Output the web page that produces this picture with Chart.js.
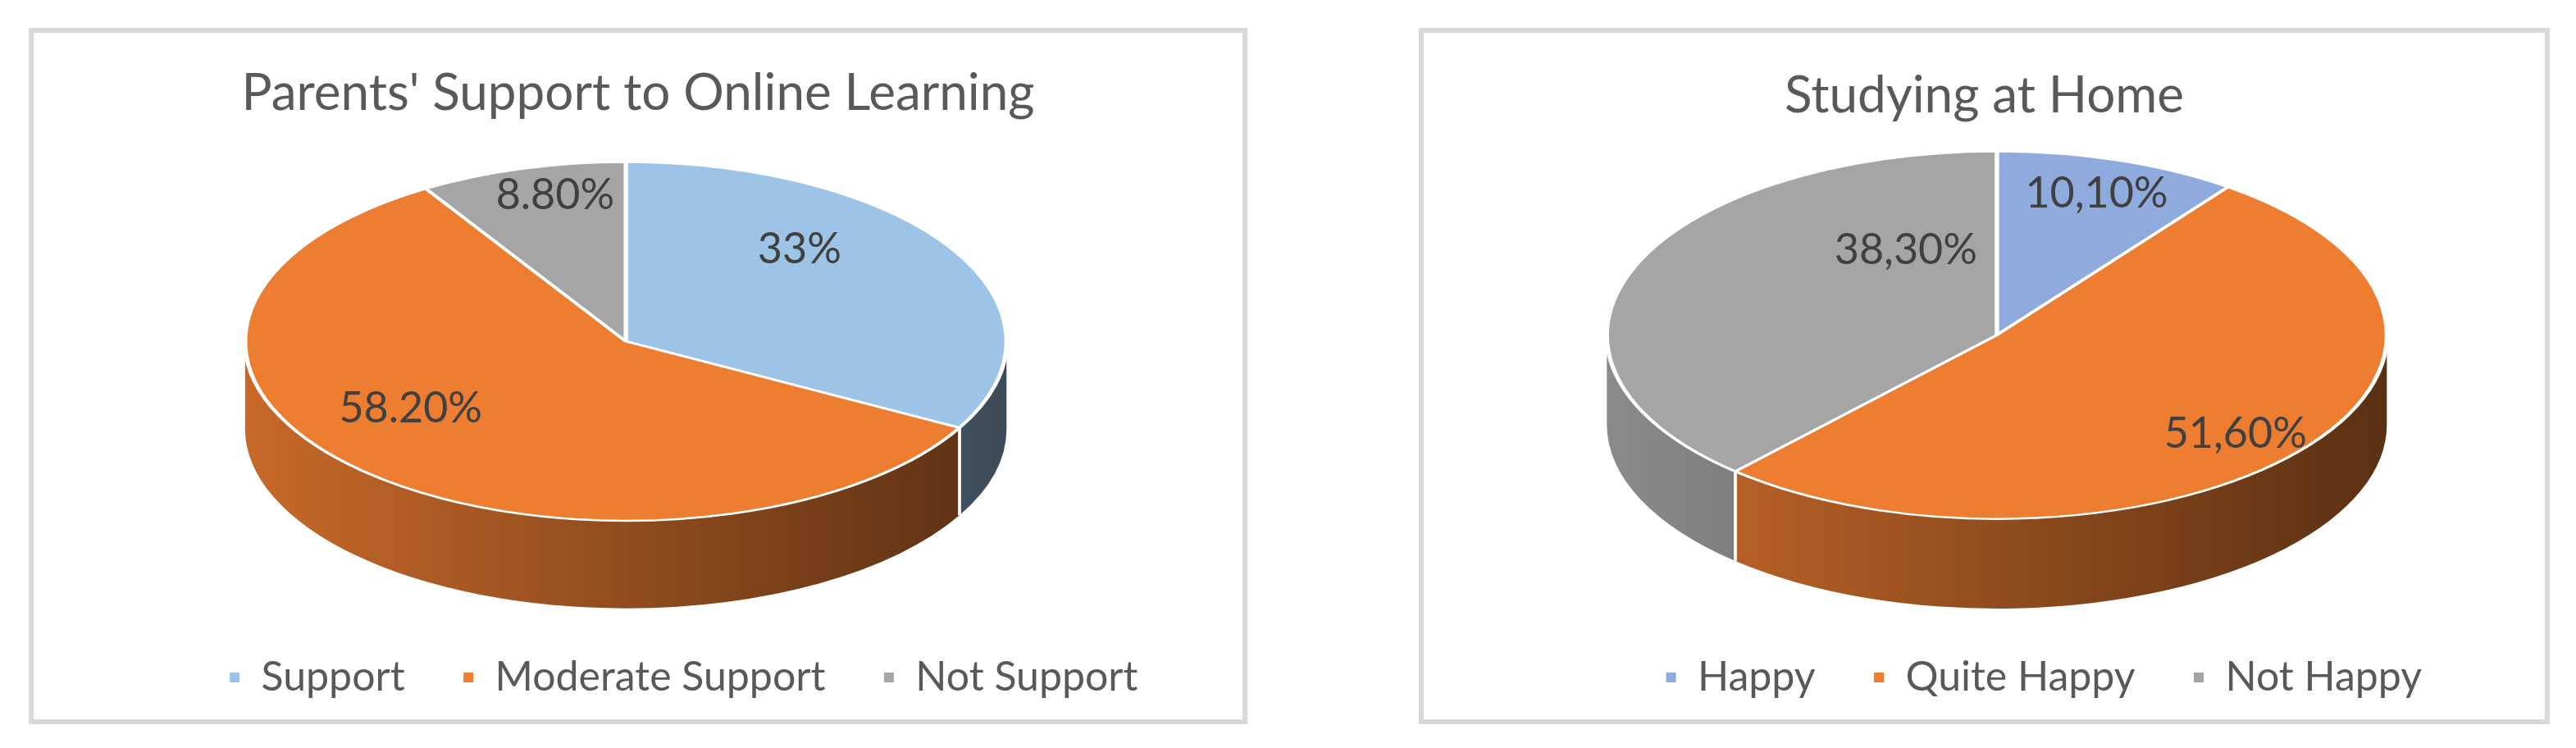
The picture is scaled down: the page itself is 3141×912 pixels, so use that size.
<!DOCTYPE html>
<html>
<head>
<meta charset="utf-8">
<title>Pie charts</title>
<script src="https://cdn.jsdelivr.net/npm/chart.js@4.4.1/dist/chart.umd.min.js"></script>
<style>
    body { margin: 0; background: #fff; width: 3141px; height: 912px; position: relative; overflow: hidden; }
    .panel { position: absolute; top: 34px; height: 837px; border: 6px solid #d9d9d9; background: #fff; }
    #panel1 { left: 35px; width: 1474px; }
    #panel2 { left: 1730px; width: 1367px; }
    canvas { display: block; }
</style>
</head>
<body>
<div class="panel" id="panel1"><canvas id="chart1" width="1474" height="837"></canvas></div>
<div class="panel" id="panel2"><canvas id="chart2" width="1367" height="837"></canvas></div>

<script>
// Data of the first chart
const title1 = "Parents' Support to Online Learning";
const categories1 = ['Support', 'Moderate Support', 'Not Support'];
const values1 = [33, 58.2, 8.8];
const valueLabels1 = ['33%', '58.20%', '8.80%'];

// Data of the second chart
const title2 = 'Studying at Home';
const categories2 = ['Happy', 'Quite Happy', 'Not Happy'];
const values2 = [10.1, 51.6, 38.3];
const valueLabels2 = ['10,10%', '51,60%', '38,30%'];

const colors1 = ['#9dc3e6', '#ed7d31', '#a5a5a5'];
const colors2 = ['#8faadc', '#ed7d31', '#a5a5a5'];
const FONT = 'Lato, "Open Sans", sans-serif';

// darken a hex colour by a factor
function shade(hex, f) {
    const n = parseInt(hex.slice(1), 16);
    const r = Math.round(((n >> 16) & 255) * f);
    const g = Math.round(((n >> 8) & 255) * f);
    const b = Math.round((n & 255) * f);
    return 'rgb(' + r + ',' + g + ',' + b + ')';
}

// ellipse that the round pie of Chart.js is squeezed into
function pieGeometry(chart, opts) {
    const area = chart.chartArea;
    const H = area.bottom - area.top;
    const arc = chart.getDatasetMeta(0).data[0];
    const rx = H * opts.rx, ry = H * opts.ry;
    return {
        rx: rx, ry: ry, depth: H * opts.depth,
        ex: (area.left + area.right) / 2 + H * opts.dx,
        ey: area.top + ry,
        cx: arc.x, cy: arc.y, R: arc.outerRadius,
        sx: rx / arc.outerRadius, sy: ry / arc.outerRadius
    };
}

// plugin: tilt the pie, draw its sides and the value labels
const pie3d = {
    id: 'pie3d',
    afterLayout(chart, args, opts) {
        if (chart.legend && opts.legendShift) {
            chart.legend.left += opts.legendShift;
            chart.legend.right += opts.legendShift;
        }
    },
    beforeDatasetsDraw(chart, args, opts) {
        const ctx = chart.ctx;
        const arcs = chart.getDatasetMeta(0).data;
        const g = pieGeometry(chart, opts);
        ctx.save();
        ctx.translate(g.ex, g.ey);
        ctx.scale(g.sx, g.sy);
        ctx.translate(-g.cx, -g.cy);

        const D = g.depth / g.sy;
        arcs.forEach((el, i) => {
            const a = Math.max(el.startAngle, 0);
            const b = Math.min(el.endAngle, Math.PI);
            if (b <= a) return;
            const color = chart.data.datasets[0].backgroundColor[i];
            const grad = ctx.createLinearGradient(g.cx - g.R, 0, g.cx + g.R, 0);
            grad.addColorStop(0, shade(color, 0.84));
            grad.addColorStop(1, shade(color, 0.38));
            ctx.beginPath();
            ctx.arc(g.cx, g.cy, g.R, a, b);
            ctx.lineTo(g.cx + g.R * Math.cos(b), g.cy + D + g.R * Math.sin(b));
            ctx.arc(g.cx, g.cy + D, g.R, b, a, true);
            ctx.closePath();
            ctx.fillStyle = grad;
            ctx.fill();

            // white edges where two slices meet on the side
            ctx.strokeStyle = '#fff';
            ctx.lineWidth = 2;
            [a, b].forEach(t => {
                if (t > 0.01 && t < Math.PI - 0.01) {
                    ctx.beginPath();
                    ctx.moveTo(g.cx + g.R * Math.cos(t), g.cy + g.R * Math.sin(t));
                    ctx.lineTo(g.cx + g.R * Math.cos(t), g.cy + D + g.R * Math.sin(t));
                    ctx.stroke();
                }
            });
        });
    },
    afterDatasetsDraw(chart, args, opts) {
        const ctx = chart.ctx;
        ctx.restore();
        const g = pieGeometry(chart, opts);
        const arcs = chart.getDatasetMeta(0).data;
        ctx.save();
        ctx.font = opts.fontSize + 'px ' + FONT;
        ctx.fillStyle = '#404040';
        ctx.textAlign = 'center';
        ctx.textBaseline = 'middle';
        arcs.forEach((el, i) => {
            const mid = (el.startAngle + el.endAngle) / 2;
            const f = opts.labelRadius[i];
            const x = g.ex + f * g.rx * Math.cos(mid);
            const y = g.ey + f * g.ry * Math.sin(mid) - opts.lift[i] * g.ry;
            ctx.fillText(opts.labels[i], x, y);
        });
        ctx.restore();
    }
};

function makePie(canvasId, title, categories, values, valueLabels, colors, look) {
    const ctx = document.getElementById(canvasId).getContext('2d');
    return new Chart(ctx, {
        type: 'pie',
        data: {
            labels: categories,
            datasets: [{
                data: values,
                backgroundColor: colors,
                borderColor: '#ffffff',
                borderWidth: 3,
                clip: false
            }]
        },
        options: {
            responsive: false,
            animation: false,
            events: [],
            layout: { padding: { bottom: 16 } },
            plugins: {
                title: {
                    display: true,
                    text: title,
                    color: '#595959',
                    font: { family: FONT, size: 62, weight: 'normal' },
                    padding: look.titlePadding
                },
                legend: {
                    position: 'bottom',
                    labels: {
                        boxWidth: 15,
                        boxHeight: 15,
                        padding: 70,
                        color: '#595959',
                        font: { family: FONT, size: 50 }
                    }
                },
                tooltip: { enabled: false },
                pie3d: {
                    rx: 0.87, ry: 0.41, depth: 0.2,
                    dx: look.dx,
                    legendShift: look.legendShift,
                    labels: valueLabels,
                    labelRadius: look.labelRadius,
                    lift: look.lift,
                    fontSize: 52
                }
            }
        },
        plugins: [pie3d]
    });
}

document.addEventListener('DOMContentLoaded', function () {
    makePie('chart1', title1, categories1, values1, valueLabels1, colors1, {
        titlePadding: { top: 37, bottom: 46 },
        dx: -0.028, legendShift: 55,
        labelRadius: [0.53, 0.82, 0.68], lift: [0.24, 0.22, 0.16]
    });
    makePie('chart2', title2, categories2, values2, valueLabels2, colors2, {
        titlePadding: { top: 40, bottom: 30 },
        dx: 0.028, legendShift: 72,
        labelRadius: [0.82, 0.79, 0.25], lift: [-0.01, -0.04, 0.37]
    });
});
</script>
</body>
</html>
